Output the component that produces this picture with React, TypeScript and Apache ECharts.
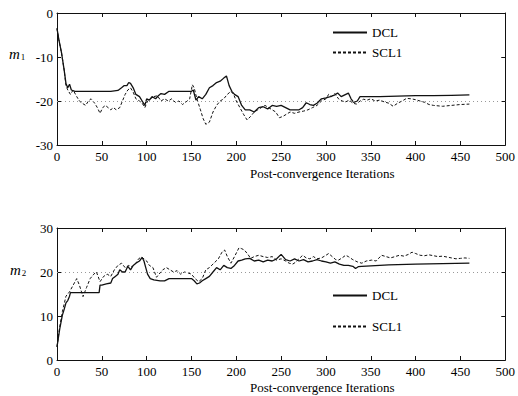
import React, { useEffect, useRef } from "react";
import * as echarts from "echarts";

const xTicks = [0, 50, 100, 150, 200, 250, 300, 350, 400, 450, 500];
const seriesNames = ["DCL", "SCL1"];
const xTitle = "Post-convergence Iterations";

// m1 panel
const m1DclX = [0,2,5,8,10,12,14,16,20,30,40,50,60,68,72,75,78,80,82,85,88,92,95,98,100,103,106,110,113,116,120,125,135,145,150,152,155,158,162,166,170,174,178,182,186,189,192,195,198,202,206,210,215,220,225,230,235,240,245,250,255,260,265,270,274,278,282,286,290,295,300,305,310,313,317,321,325,328,331,335,338,345,360,380,400,420,440,460];
const m1DclY = [-3.5,-6,-9,-13,-16,-17,-16.2,-17.5,-17.8,-17.8,-17.8,-17.8,-17.8,-17.6,-17,-16.5,-16.5,-15.8,-16,-17,-18.5,-19,-20,-21,-19.5,-19.8,-19,-19.5,-18.8,-18.3,-18.5,-17.8,-17.8,-17.8,-17.8,-17.5,-19.8,-19,-19.5,-18.5,-17,-16.5,-15.8,-15.5,-14.8,-14.3,-16.5,-17.8,-18.5,-19,-21,-22,-22,-22.5,-21.5,-21.3,-21.8,-21,-21.2,-21,-21.5,-22,-22,-22,-21.5,-20.4,-20.8,-21,-20.5,-19.5,-19.3,-19,-18.6,-18.2,-19,-18.6,-18.2,-19.5,-20.3,-20,-19,-19,-19,-18.9,-18.8,-18.8,-18.7,-18.6];
const m1SclX = [0,2,5,8,10,12,15,18,22,25,28,32,35,38,42,45,48,51,54,57,60,63,66,70,73,76,79,82,85,88,92,95,98,101,104,108,112,116,120,124,128,132,136,140,144,148,151,153,156,160,163,166,170,174,178,182,186,190,194,197,200,204,208,212,216,220,224,228,232,236,240,244,248,252,256,260,265,270,275,280,285,290,295,300,303,306,310,314,318,322,326,330,334,338,342,346,350,355,360,365,370,375,380,385,390,395,400,405,410,415,420,430,440,450,460];
const m1SclY = [-3.5,-6,-9,-13,-16.5,-17.5,-18.5,-17.5,-19,-20,-20.5,-21,-20,-19.5,-20.5,-21.5,-22.8,-21.5,-21,-21.5,-22,-21.5,-22,-21.5,-20,-18.5,-17.5,-17,-18,-19.5,-20,-20.5,-21.5,-20,-19.5,-19,-18.8,-20,-19.5,-20,-19.5,-20.3,-20,-20.8,-20.2,-19.5,-16.3,-17,-19.5,-22,-24,-25.3,-24.8,-22.5,-21,-20,-19.5,-18.5,-17.8,-18.5,-20,-21.5,-23,-24.3,-23.5,-22.5,-22,-21.5,-21,-21.5,-22,-22.5,-23.8,-23.5,-23,-22.5,-22.8,-22.5,-22.3,-22,-21.5,-21,-20,-19.5,-18.5,-19,-18.3,-19.5,-20,-20.2,-19.8,-20.5,-20.7,-20,-19.6,-19.8,-19.5,-20,-19.8,-20.2,-20.5,-21.2,-20.5,-20,-19.4,-19.5,-19.7,-20,-20.3,-20.8,-21,-21.2,-21,-20.8,-20.7];

// m2 panel
const m2DclX = [0,3,6,8,10,12,14,15,20,30,40,47,48,50,55,60,62,65,68,70,73,76,79,82,85,88,92,95,97,99,101,104,108,115,120,125,130,140,150,153,156,159,162,166,170,174,178,182,186,190,194,198,202,206,210,215,220,225,230,235,240,245,250,255,260,265,270,275,280,285,290,295,300,305,310,315,320,325,330,333,336,340,350,370,400,430,460];
const m2DclY = [3,7,10.2,11.5,13,13.5,14.5,15.3,15.3,15.3,15.3,15.3,17,17,17.3,17.5,18.5,19,19.5,20.5,20,20,21.3,20.5,21.5,22,22.5,23.3,22.5,21,19.5,18.5,18.2,18,18,18.5,18.5,18.5,18.5,18,17.3,17.5,18,18.5,19,20,21,20.5,21.5,21,20.8,21.5,22.5,22.7,23,23.1,22.5,22.7,22.3,22.7,22.5,23,24,22.8,22.5,23,22.5,22.8,22.3,22.5,22.8,22.5,22.3,22,22.3,21.8,21.5,21.5,21.3,20.8,21.2,21.3,21.4,21.6,21.8,21.9,22];
const m2SclX = [0,3,6,10,14,18,22,25,29,33,37,41,44,48,52,56,60,64,68,72,76,80,84,88,91,94,97,100,103,107,111,115,118,122,126,130,134,138,142,146,150,154,158,162,166,170,175,180,184,187,190,194,198,203,206,209,213,216,220,225,230,235,240,245,250,255,259,263,266,270,274,278,282,286,290,295,300,303,307,311,314,318,322,325,330,335,340,345,351,356,362,367,372,377,382,387,392,396,400,405,410,415,420,425,430,435,440,445,450,455,460];
const m2SclY = [3,7.5,11,14.5,15.5,17,18.5,17,14.4,16.5,18.5,19.5,20,17.8,19,19.5,19,20.5,21.5,22,21,21.5,21.2,22,23,23.4,23,22.5,21.5,21,18.8,19.8,20.5,21,20.5,20,20.3,19.5,20,19.8,19.5,18.5,17.8,18.5,20.5,21,22,23,24.5,25,23.5,22,23.5,25.5,25.3,25,24,23.1,23.5,23.8,23.5,23.3,23.5,22.7,23,22.5,22,21.8,22.2,23,23.8,23.2,23,23.5,23,23.2,23.8,24.2,23.5,22.8,22.7,23.2,23.8,23.5,22.8,22.3,22,22.5,22.7,22.5,23.8,23.5,23.2,23.5,23.8,23.6,24,24.5,24.2,23.8,23.7,23.9,23.7,23.5,23.6,23.4,23.2,23,23.1,23.2,23.1];

const zip = (xs: number[], ys: number[]) => xs.map((x, i) => [x, ys[i]]);

const FONT = "'Liberation Serif', 'Times New Roman', serif";
const INK = "#111";

function makeXAxis(gridIndex: number, top: boolean) {
  return {
    type: "value",
    gridIndex,
    position: top ? "top" : "bottom",
    min: xTicks[0],
    max: xTicks[xTicks.length - 1],
    interval: xTicks[1] - xTicks[0],
    axisLine: { show: true, onZero: false, lineStyle: { color: INK, width: 1 } },
    axisTick: { show: true, inside: true, length: 4, lineStyle: { color: INK } },
    axisLabel: top
      ? { show: false }
      : { show: true, color: "#000", fontFamily: FONT, fontSize: 13, margin: 5 },
    splitLine: { show: false },
  };
}

function makeYAxis(gridIndex: number, right: boolean, min: number, max: number) {
  return {
    type: "value",
    gridIndex,
    position: right ? "right" : "left",
    min,
    max,
    interval: 10,
    axisLine: { show: true, onZero: false, lineStyle: { color: INK, width: 1 } },
    axisTick: { show: true, inside: true, length: 4, lineStyle: { color: INK } },
    axisLabel: right
      ? { show: false }
      : { show: true, color: "#000", fontFamily: FONT, fontSize: 13, margin: 4 },
    splitLine: { show: false },
  };
}

function refLine(v: number) {
  return {
    silent: true,
    symbol: "none",
    label: { show: false },
    lineStyle: { color: "#999", type: [1, 3], width: 1 },
    data: [{ yAxis: v }],
  };
}

function lineSeries(name: string, xi: number, yi: number, data: number[][], dashed: boolean, ref?: number) {
  return {
    name,
    type: "line",
    xAxisIndex: xi,
    yAxisIndex: yi,
    data,
    symbol: "none",
    showSymbol: false,
    lineStyle: dashed
      ? { color: INK, width: 1, type: [3, 2] }
      : { color: INK, width: 1.3, type: "solid" },
    itemStyle: { color: INK },
    z: dashed ? 2 : 3,
    markLine: ref !== undefined ? refLine(ref) : undefined,
  };
}

function legendAt(top: number, gap: number) {
  return {
    orient: "vertical",
    left: 327,
    top,
    itemWidth: 34,
    itemHeight: 14,
    itemGap: gap,
    itemTextGap: 10,
    selectedMode: false,
    data: seriesNames,
    itemStyle: { opacity: 0, borderWidth: 0 },
    textStyle: { color: "#000", fontFamily: FONT, fontSize: 13 },
  };
}

function yName(label: string, sub: string, x: number, y: number) {
  return {
    type: "text",
    left: x,
    top: y,
    style: {
      text: `{m|${label}}{s|${sub}}`,
      rich: {
        m: { fontFamily: FONT, fontStyle: "italic", fontSize: 15, fill: "#000" },
        s: { fontFamily: FONT, fontSize: 9, fill: "#000", padding: [7, 0, 0, 1] },
      },
    },
  };
}

export default function App() {
  const ref = useRef<HTMLDivElement>(null);
  useEffect(() => {
    if (!ref.current) return;
    const chart = echarts.init(ref.current, null, { renderer: "svg" });
    chart.setOption({
      animation: false,
      backgroundColor: "#fff",
      grid: [
        { left: 57, top: 13, width: 450, height: 132 },
        { left: 57, top: 228, width: 450, height: 132 },
      ],
      xAxis: [makeXAxis(0, false), makeXAxis(0, true), makeXAxis(1, false), makeXAxis(1, true)],
      yAxis: [
        makeYAxis(0, false, -30, 0),
        makeYAxis(0, true, -30, 0),
        makeYAxis(1, false, 0, 30),
        makeYAxis(1, true, 0, 30),
      ],
      legend: [legendAt(21, 7), legendAt(284, 18)],
      series: [
        lineSeries(seriesNames[1], 0, 0, zip(m1SclX, m1SclY), true, -20),
        lineSeries(seriesNames[0], 0, 0, zip(m1DclX, m1DclY), false),
        lineSeries(seriesNames[1], 2, 2, zip(m2SclX, m2SclY), true, 20),
        lineSeries(seriesNames[0], 2, 2, zip(m2DclX, m2DclY), false),
      ],
      graphic: [
        yName("m", "1", 9, 46),
        yName("m", "2", 10, 262),
        {
          type: "text",
          left: 250,
          top: 167,
          style: { text: xTitle, fontFamily: FONT, fontSize: 13, fill: "#000" },
        },
        {
          type: "text",
          left: 250,
          top: 381,
          style: { text: xTitle, fontFamily: FONT, fontSize: 13, fill: "#000" },
        },
      ],
    });
    return () => chart.dispose();
  }, []);
  return (
    <div
      ref={ref}
      style={{ position: "absolute", left: 0, top: 0, width: 518, height: 396 }}
    />
  );
}
